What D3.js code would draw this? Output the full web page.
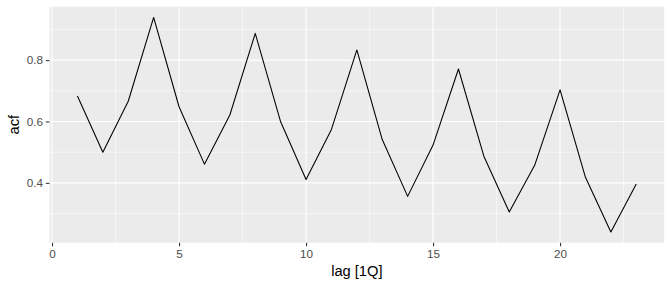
<!DOCTYPE html>
<html>
<head>
<meta charset="utf-8">
<script src="https://cdn.jsdelivr.net/npm/d3@7"></script>
<style>
  body { margin: 0; background: #fff; }
  svg { display: block; font-family: "Liberation Sans", Arial, sans-serif; }
</style>
</head>
<body>
<div id="chart"></div>
<script>
// ACF values, lags 1..23
const lags = d3.range(1, 24);
const acfValues = [0.683, 0.500, 0.666, 0.939, 0.648, 0.461, 0.621, 0.887, 0.599, 0.411,
  0.574, 0.833, 0.541, 0.356, 0.523, 0.771, 0.487, 0.305, 0.457, 0.703, 0.418, 0.240, 0.396];
const xTicks = [0, 5, 10, 15, 20];
const xMinor = [2.5, 7.5, 12.5, 17.5, 22.5];
const yTicks = [0.4, 0.6, 0.8];
const yMinor = [0.3, 0.5, 0.7, 0.9];

const width = 672, height = 288;
const margin = { top: 6.7, right: 7.8, bottom: 45.3, left: 49.5 };
const innerW = width - margin.left - margin.right;
const innerH = height - margin.top - margin.bottom;

const svg = d3.select('#chart').append('svg')
  .attr('width', width)
  .attr('height', height);

// ggplot style 5% expansion
function expand(ext) {
  const pad = (ext[1] - ext[0]) * 0.05;
  return [ext[0] - pad, ext[1] + pad];
}

const x = d3.scaleLinear()
  .domain(expand(d3.extent(lags)))
  .range([0, innerW]);

const y = d3.scaleLinear()
  .domain(expand(d3.extent(acfValues)))
  .range([innerH, 0]);

const g = svg.append('g')
  .attr('transform', `translate(${margin.left},${margin.top})`);

g.append('rect')
  .attr('width', innerW)
  .attr('height', innerH)
  .attr('fill', '#ebebeb');

// minor grid
g.selectAll('.xminor').data(xMinor).join('line')
  .attr('x1', d => x(d)).attr('x2', d => x(d))
  .attr('y1', 0).attr('y2', innerH)
  .attr('stroke', '#fff').attr('stroke-width', 0.53);
g.selectAll('.yminor').data(yMinor).join('line')
  .attr('y1', d => y(d)).attr('y2', d => y(d))
  .attr('x1', 0).attr('x2', innerW)
  .attr('stroke', '#fff').attr('stroke-width', 0.53);

// major grid
g.selectAll('.xmajor').data(xTicks).join('line')
  .attr('x1', d => x(d)).attr('x2', d => x(d))
  .attr('y1', 0).attr('y2', innerH)
  .attr('stroke', '#fff').attr('stroke-width', 1.07);
g.selectAll('.ymajor').data(yTicks).join('line')
  .attr('y1', d => y(d)).attr('y2', d => y(d))
  .attr('x1', 0).attr('x2', innerW)
  .attr('stroke', '#fff').attr('stroke-width', 1.07);

// acf line
const line = d3.line()
  .x((d, i) => x(lags[i]))
  .y(d => y(d));

g.append('path')
  .datum(acfValues)
  .attr('d', line)
  .attr('fill', 'none')
  .attr('stroke', '#000')
  .attr('stroke-width', 1.07)
  .attr('stroke-linejoin', 'round');

// axes
const xAxis = g.append('g')
  .attr('transform', `translate(0,${innerH})`)
  .call(d3.axisBottom(x).tickValues(xTicks).tickSize(3.67).tickPadding(2.9).tickFormat(d3.format('d')));
const yAxis = g.append('g')
  .call(d3.axisLeft(y).tickValues(yTicks).tickSize(3.67).tickPadding(2.9).tickFormat(d3.format('.1f')));

[xAxis, yAxis].forEach(a => {
  a.select('.domain').remove();
  a.selectAll('.tick line').attr('stroke', '#333').attr('stroke-width', 1.07);
  a.selectAll('.tick text')
    .attr('fill', '#4d4d4d')
    .style('font-size', '11.7px')
    .style('font-family', '"Liberation Sans", Arial, sans-serif');
});

// axis titles
svg.append('text')
  .attr('x', margin.left + innerW / 2)
  .attr('y', height - 12)
  .attr('text-anchor', 'middle')
  .style('font-size', '14.67px')
  .attr('fill', '#000')
  .text('lag [1Q]');

svg.append('text')
  .attr('transform', `translate(${19},${margin.top + innerH / 2}) rotate(-90)`)
  .attr('text-anchor', 'middle')
  .style('font-size', '14.67px')
  .attr('fill', '#000')
  .text('acf');
</script>
</body>
</html>
